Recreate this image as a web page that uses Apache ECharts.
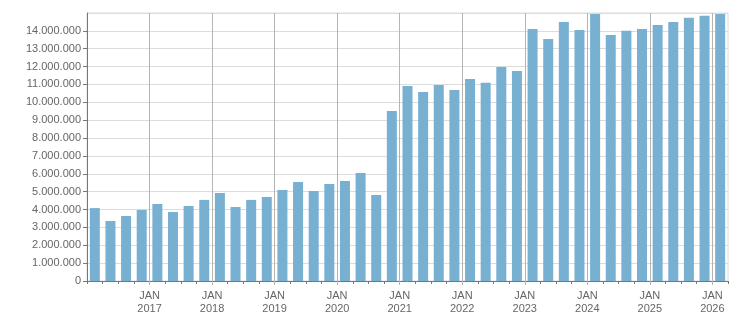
<!DOCTYPE html>
<html>
<head>
<meta charset="utf-8">
<script src="https://cdn.jsdelivr.net/npm/echarts@6/dist/echarts.min.js"></script>
<style>
html,body{margin:0;padding:0;background:#fff;}
#chart{width:751px;height:313px;}
</style>
</head>
<body>
<div id="chart"></div>
<script>
// Quarterly categories, 2016 Q1 .. 2026 Q1
const quarters = [
  '2016-Q1','2016-Q2','2016-Q3','2016-Q4',
  '2017-Q1','2017-Q2','2017-Q3','2017-Q4',
  '2018-Q1','2018-Q2','2018-Q3','2018-Q4',
  '2019-Q1','2019-Q2','2019-Q3','2019-Q4',
  '2020-Q1','2020-Q2','2020-Q3','2020-Q4',
  '2021-Q1','2021-Q2','2021-Q3','2021-Q4',
  '2022-Q1','2022-Q2','2022-Q3','2022-Q4',
  '2023-Q1','2023-Q2','2023-Q3','2023-Q4',
  '2024-Q1','2024-Q2','2024-Q3','2024-Q4',
  '2025-Q1','2025-Q2','2025-Q3','2025-Q4',
  '2026-Q1'
];
const values = [
  4080000, 3360000, 3640000, 3980000,
  4310000, 3860000, 4200000, 4540000,
  4930000, 4140000, 4540000, 4700000,
  5100000, 5540000, 5040000, 5430000,
  5600000, 6050000, 4820000, 9520000,
  10920000, 10580000, 10970000, 10690000,
  11310000, 11090000, 11980000, 11760000,
  14110000, 13550000, 14500000, 14050000,
  14950000, 13770000, 14000000, 14110000,
  14330000, 14500000, 14730000, 14840000,
  14950000
];
// Year-boundary tick labels (placed at the start of each year)
const yearTickLabels = ['JAN\n2017','JAN\n2018','JAN\n2019','JAN\n2020','JAN\n2021','JAN\n2022','JAN\n2023','JAN\n2024','JAN\n2025','JAN\n2026'];
const yMax = 15000000;
const yStep = 1000000;

function fmtDots(v){
  return String(Math.round(v)).replace(/\B(?=(\d{3})+(?!\d))/g, '.');
}

const FONT = 'Liberation Sans';
const chart = echarts.init(document.getElementById('chart'), null, {renderer:'canvas'});
chart.setOption({
  animation: false,
  backgroundColor: '#fff',
  grid: {left: 87, right: 23, top: 13, bottom: 32, outerBoundsMode: 'none', containLabel: false, show: true, borderColor: '#dcdcdc', borderWidth: 1, backgroundColor: 'transparent'},
  xAxis: [
    {
      type: 'category',
      data: quarters,
      boundaryGap: true,
      position: 'bottom',
      axisLine: {show: true, lineStyle: {color: '#777', width: 1}},
      axisTick: {show: true, interval: 0, length: 3, lineStyle: {color: '#777'}},
      axisLabel: {show: false},
      splitLine: {show: false}
    },
    {
      type: 'value',
      min: 0,
      max: quarters.length,
      interval: 4,
      position: 'bottom',
      axisLine: {show: false},
      axisTick: {show: true, length: 4, lineStyle: {color: '#b4b4b4'}},
      axisLabel: {
        show: true,
        margin: 8,
        color: '#666',
        fontFamily: FONT,
        fontSize: 11,
        lineHeight: 13,
        showMinLabel: false,
        showMaxLabel: false,
        formatter: function(v){
          if (v % 4 !== 0 || v === 0) return '';
          return yearTickLabels[v/4 - 1] || '';
        }
      },
      splitLine: {show: true, showMinLine: false, showMaxLine: false, lineStyle: {color: '#b4b4b4', width: 1}}
    }
  ],
  yAxis: {
    type: 'value',
    min: 0,
    max: yMax,
    interval: yStep,
    axisLine: {show: true, lineStyle: {color: '#777', width: 1}},
    axisTick: {show: true, length: 4, lineStyle: {color: '#777'}},
    axisLabel: {
      margin: 6,
      color: '#666',
      fontFamily: FONT,
      fontSize: 11,
      showMaxLabel: false,
      formatter: function(v){ return fmtDots(v); }
    },
    splitLine: {show: true, lineStyle: {color: '#dcdcdc', width: 1}}
  },
  series: [{
    type: 'bar',
    xAxisIndex: 0,
    data: values,
    barWidth: 10,
    itemStyle: {color: '#78b0d2'},
    z: 1
  }]
});
</script>
</body>
</html>
